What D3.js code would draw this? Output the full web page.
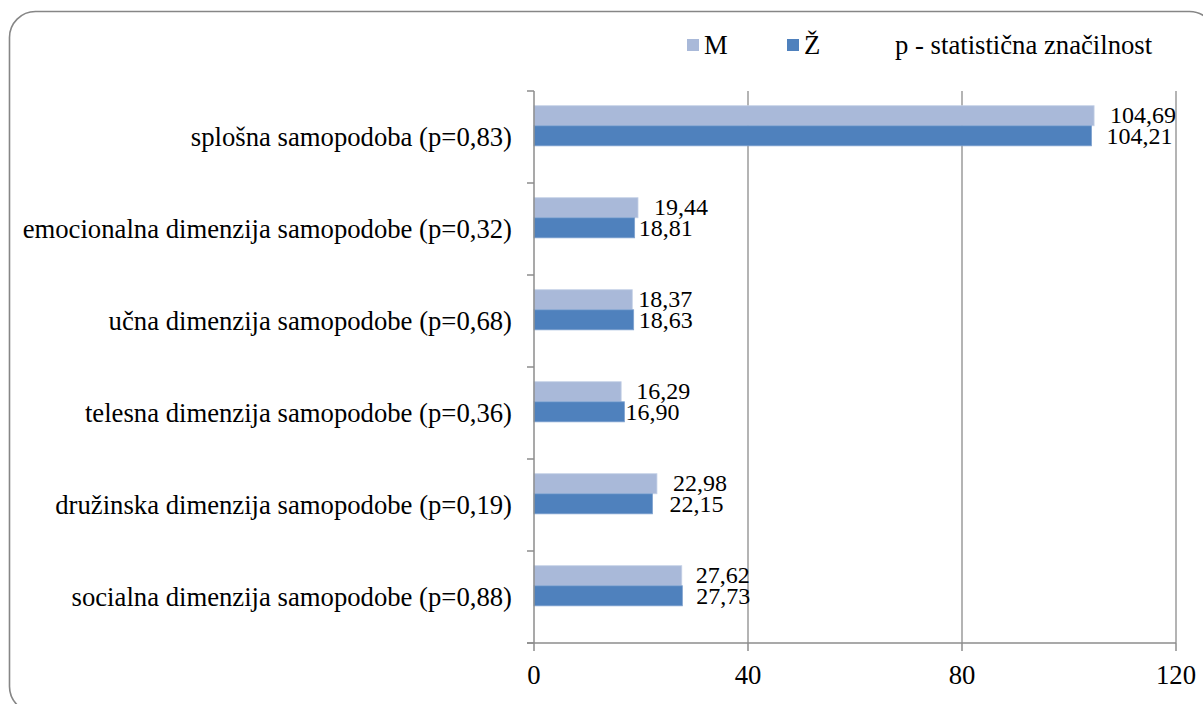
<!DOCTYPE html>
<html>
<head>
<meta charset="utf-8">
<script src="https://cdn.jsdelivr.net/npm/d3@7"></script>
<style>
  html, body { margin: 0; padding: 0; background: #ffffff; }
  svg { display: block; }
</style>
</head>
<body>
<svg id="chart" width="1203" height="704"></svg>
<script>
// Dimensions of self-concept, with p-values in the labels
const categories = [
  "splošna samopodoba (p=0,83)",
  "emocionalna dimenzija samopodobe (p=0,32)",
  "učna dimenzija samopodobe (p=0,68)",
  "telesna dimenzija samopodobe (p=0,36)",
  "družinska dimenzija samopodobe (p=0,19)",
  "socialna dimenzija samopodobe (p=0,88)"
];
const seriesNames = ["M", "Ž"];
const valuesM = [104.69, 19.44, 18.37, 16.29, 22.98, 27.62];
const valuesZ = [104.21, 18.81, 18.63, 16.90, 22.15, 27.73];
const xTicks = [0, 40, 80, 120];
const legendNote = "p - statistična značilnost";

// Hand-placed label nudges (px from the bar end to the label centre)
const nudgeM = [49, 43, 33, 42, 43, 41];
const nudgeZ = [48, 31, 32, 28, 44, 41];

const colors = { M: "#A9B9D9", Z: "#4F81BD" };
const gridColor = "#8C8C8C";
const fontFamily = "Liberation Serif";
const fontSize = 26.7;
const valueFontSize = 24;

const svg = d3.select("#chart");

// Every text node gets the serif face directly
const serif = (sel, size = fontSize) =>
  sel.style("font-family", fontFamily).style("font-size", size + "px").attr("fill", "#000");

// Rounded frame around the chart
svg.append("rect")
  .attr("x", 9.5).attr("y", 11.5)
  .attr("width", 1206).attr("height", 701)
  .attr("rx", 26).attr("ry", 26)
  .attr("fill", "#fff")
  .attr("stroke", "#868686")
  .attr("stroke-width", 1.6);

const plot = { left: 534, right: 1176, top: 91, bottom: 643 };

const x = d3.scaleLinear().domain([0, 120]).range([plot.left, plot.right]);
const y = d3.scaleBand().domain(categories).range([plot.top, plot.bottom]).padding(0);
const bw = y.bandwidth();

// Vertical gridlines
svg.append("g").selectAll("line")
  .data(xTicks.filter(t => t > 0))
  .join("line")
  .attr("x1", d => x(d)).attr("x2", d => x(d))
  .attr("y1", plot.top).attr("y2", plot.bottom)
  .attr("stroke", gridColor).attr("stroke-width", 1.3);

// Bars: M above Ž inside each category band
const rows = categories.map((c, i) => ({ c, m: valuesM[i], z: valuesZ[i], nm: nudgeM[i], nz: nudgeZ[i] }));
const barH = bw * 0.218;
const offM = bw * 0.16;
const offZ = offM + barH;

const bars = svg.append("g");
bars.selectAll("rect.m").data(rows).join("rect")
  .attr("class", "m")
  .attr("x", x(0)).attr("y", d => y(d.c) + offM)
  .attr("width", d => x(d.m) - x(0)).attr("height", barH)
  .attr("fill", colors.M)
  .attr("stroke", "#C4D0E6").attr("stroke-width", 0.8);
bars.selectAll("rect.z").data(rows).join("rect")
  .attr("class", "z")
  .attr("x", x(0)).attr("y", d => y(d.c) + offZ)
  .attr("width", d => x(d.z) - x(0)).attr("height", barH)
  .attr("fill", colors.Z)
  .attr("stroke", "#7FA2CF").attr("stroke-width", 0.8);

// Value labels (decimal comma)
const fmt = v => d3.format(".2f")(v).replace(".", ",");
const labels = svg.append("g");
labels.selectAll("text.m").data(rows).join("text")
  .attr("class", "m")
  .attr("x", d => x(d.m) + d.nm)
  .attr("y", d => y(d.c) + offM + barH / 2 - 1)
  .attr("dy", "0.33em")
  .attr("text-anchor", "middle")
  .call(serif, valueFontSize)
  .text(d => fmt(d.m));
labels.selectAll("text.z").data(rows).join("text")
  .attr("class", "z")
  .attr("x", d => x(d.z) + d.nz)
  .attr("y", d => y(d.c) + offZ + barH / 2)
  .attr("dy", "0.33em")
  .attr("text-anchor", "middle")
  .call(serif, valueFontSize)
  .text(d => fmt(d.z));

// Category axis
const yAxis = svg.append("g").attr("transform", `translate(${plot.left},0)`);
yAxis.append("line")
  .attr("x1", 0).attr("x2", 0).attr("y1", plot.top).attr("y2", plot.bottom)
  .attr("stroke", gridColor).attr("stroke-width", 1.5);
const bounds = categories.map(c => y(c)).concat([plot.bottom]);
yAxis.selectAll("line.tick").data(bounds).join("line")
  .attr("class", "tick")
  .attr("x1", -7).attr("x2", 0)
  .attr("y1", d => d).attr("y2", d => d)
  .attr("stroke", gridColor).attr("stroke-width", 1.5);
yAxis.selectAll("text").data(categories).join("text")
  .attr("x", -22)
  .attr("y", d => y(d) + bw / 2)
  .attr("dy", "0.33em")
  .attr("text-anchor", "end")
  .call(serif)
  .text(d => d);

// Value axis
const xAxis = svg.append("g").attr("transform", `translate(0,${plot.bottom})`);
xAxis.append("line")
  .attr("x1", plot.left - 7).attr("x2", plot.right)
  .attr("y1", 0).attr("y2", 0)
  .attr("stroke", gridColor).attr("stroke-width", 1.5);
xAxis.selectAll("line.tick").data(xTicks).join("line")
  .attr("class", "tick")
  .attr("x1", d => x(d)).attr("x2", d => x(d))
  .attr("y1", 0).attr("y2", 8)
  .attr("stroke", gridColor).attr("stroke-width", 1.5);
xAxis.selectAll("text").data(xTicks).join("text")
  .attr("x", d => x(d))
  .attr("y", 32)
  .attr("dy", "0.33em")
  .attr("text-anchor", "middle")
  .call(serif)
  .text(d => d);

// Legend
const legend = svg.append("g");
const legendItems = [
  { name: seriesNames[0], color: colors.M, x: 687 },
  { name: seriesNames[1], color: colors.Z, x: 787 }
];
legend.selectAll("rect").data(legendItems).join("rect")
  .attr("x", d => d.x).attr("y", 39)
  .attr("width", 12).attr("height", 12)
  .attr("fill", d => d.color);
legend.selectAll("text.item").data(legendItems).join("text")
  .attr("class", "item")
  .attr("x", d => d.x + 17).attr("y", 45)
  .attr("dy", "0.33em")
  .call(serif)
  .text(d => d.name);
legend.append("text")
  .attr("x", 895).attr("y", 45)
  .attr("dy", "0.33em")
  .call(serif)
  .text(legendNote);
</script>
</body>
</html>
